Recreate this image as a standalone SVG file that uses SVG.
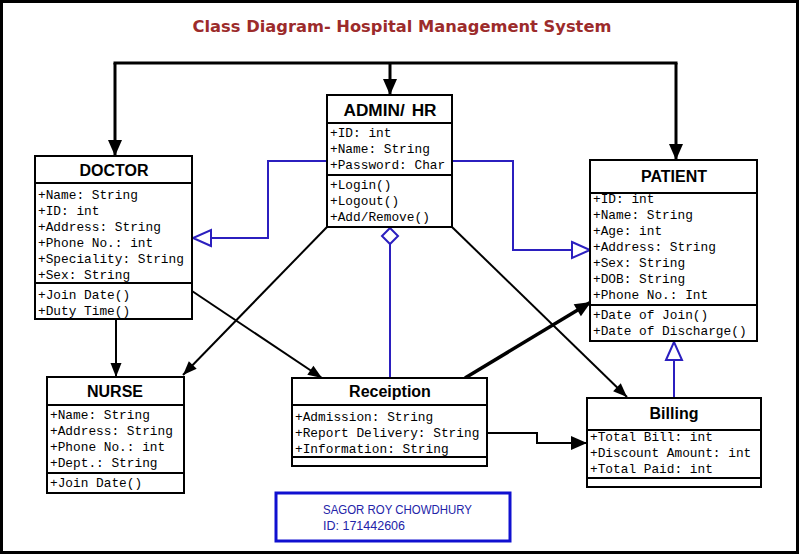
<svg xmlns="http://www.w3.org/2000/svg" width="799" height="556" viewBox="0 0 799 556">
<style>
.box{fill:#fff;stroke:#000;stroke-width:2}
.div{stroke:#000;stroke-width:2}
.hd{font-family:"Liberation Sans",Arial,sans-serif;font-weight:bold;font-size:16px;text-anchor:middle;fill:#000}
.at{font-family:"Liberation Mono","Courier New",monospace;font-size:12.8px;fill:#000}
.k{fill:none;stroke:#000;stroke-width:2}
.kb{fill:none;stroke:#000;stroke-width:3}
.bl{fill:none;stroke:#2b1fbf;stroke-width:2}
marker{overflow:visible}
</style>
<defs>
<marker id="ah" markerUnits="userSpaceOnUse" markerWidth="14" markerHeight="11" refX="14" refY="5.5" orient="auto"><path d="M0,0 L14,5.5 L0,11 z" fill="#000"/></marker>
<marker id="ahB" markerUnits="userSpaceOnUse" markerWidth="16" markerHeight="14" refX="16" refY="7" orient="auto"><path d="M0,0 L16,7 L0,14 z" fill="#000"/></marker>
<marker id="tri" markerUnits="userSpaceOnUse" markerWidth="18" markerHeight="16" refX="18" refY="8" orient="auto"><path d="M0,0 L18,8 L0,16 z" fill="#fff" stroke="#2b1fbf" stroke-width="2"/></marker>
<marker id="dia" markerUnits="userSpaceOnUse" markerWidth="16" markerHeight="16" refX="0" refY="8" orient="auto"><path d="M0,8 L8,0 L16,8 L8,16 z" fill="#fff" stroke="#2b1fbf" stroke-width="2"/></marker>
</defs>
<rect x="0" y="0" width="799" height="556" fill="#fff"/>
<rect x="1.5" y="1.5" width="796" height="551" fill="none" stroke="#000" stroke-width="3"/>
<text x="402" y="32" font-family="DejaVu Sans,Verdana,sans-serif" font-weight="bold" font-size="16.3" fill="#9c2b2b" text-anchor="middle">Class Diagram- Hospital Management System</text>

<g id="connectors">
<path class="kb" d="M115,63 L676,63" stroke-linecap="square"/>
<path class="kb" d="M390,63 L390,95" marker-end="url(#ahB)"/>
<path class="kb" d="M115,63 L115,156" marker-end="url(#ahB)"/>
<path class="kb" d="M676,63 L676,160" marker-end="url(#ahB)"/>
<path class="bl" d="M327,161 L268,161 L268,238 L193,238" marker-end="url(#tri)"/>
<path class="bl" d="M452,161 L513,161 L513,250 L590,250" marker-end="url(#tri)"/>
<path class="bl" d="M390,228 L390,378" marker-start="url(#dia)"/>
<path class="bl" d="M674,398 L674,342" marker-end="url(#tri)"/>
<path class="k" d="M327,227 L183,375" marker-end="url(#ah)"/>
<path class="k" d="M452,227 L627,397" marker-end="url(#ah)"/>
<path class="k" d="M116,320 L116,377" marker-end="url(#ah)"/>
<path class="k" d="M192,291 L322,378" marker-end="url(#ah)"/>
<path fill="none" stroke="#000" stroke-width="3.5" d="M465,378 L591,302" marker-end="url(#ahB)"/>
<path class="k" d="M487,433 L537,433 L537,443 L587,443" marker-end="url(#ahB)"/>
</g>

<g id="admin">
<rect class="box" x="327" y="95" width="125" height="132"/>
<line class="div" x1="327" y1="123" x2="452" y2="123"/>
<line class="div" x1="327" y1="175" x2="452" y2="175"/>
<text class="hd" x="390" y="116" word-spacing="2" textLength="93" lengthAdjust="spacingAndGlyphs">ADMIN/ HR</text>
<text class="at" x="330" y="137">+ID: int</text>
<text class="at" x="330" y="153">+Name: String</text>
<text class="at" x="330" y="169">+Password: Char</text>
<text class="at" x="330" y="189">+Login()</text>
<text class="at" x="330" y="205">+Logout()</text>
<text class="at" x="330" y="221">+Add/Remove()</text>
</g>

<g id="doctor">
<rect class="box" x="35" y="156" width="157" height="163"/>
<line class="div" x1="35" y1="183" x2="192" y2="183"/>
<line class="div" x1="35" y1="283" x2="192" y2="283"/>
<text class="hd" x="114" y="176">DOCTOR</text>
<text class="at" x="38" y="199">+Name: String</text>
<text class="at" x="38" y="215">+ID: int</text>
<text class="at" x="38" y="231">+Address: String</text>
<text class="at" x="38" y="247">+Phone No.: int</text>
<text class="at" x="38" y="263">+Speciality: String</text>
<text class="at" x="38" y="279">+Sex: String</text>
<text class="at" x="38" y="299">+Join Date()</text>
<text class="at" x="38" y="315">+Duty Time()</text>
</g>

<g id="patient">
<rect class="box" x="590" y="160" width="167" height="181"/>
<line class="div" x1="590" y1="193" x2="757" y2="193"/>
<line class="div" x1="590" y1="305" x2="757" y2="305"/>
<text class="hd" x="674" y="182">PATIENT</text>
<text class="at" x="593" y="203">+ID: int</text>
<text class="at" x="593" y="219">+Name: String</text>
<text class="at" x="593" y="235">+Age: int</text>
<text class="at" x="593" y="251">+Address: String</text>
<text class="at" x="593" y="267">+Sex: String</text>
<text class="at" x="593" y="283">+DOB: String</text>
<text class="at" x="593" y="299">+Phone No.: Int</text>
<text class="at" x="593" y="319">+Date of Join()</text>
<text class="at" x="593" y="335">+Date of Discharge()</text>
</g>

<g id="nurse">
<rect class="box" x="47" y="377" width="137" height="116"/>
<line class="div" x1="47" y1="405" x2="184" y2="405"/>
<line class="div" x1="47" y1="473" x2="184" y2="473"/>
<text class="hd" x="115" y="397">NURSE</text>
<text class="at" x="50" y="419">+Name: String</text>
<text class="at" x="50" y="435">+Address: String</text>
<text class="at" x="50" y="451">+Phone No.: int</text>
<text class="at" x="50" y="467">+Dept.: String</text>
<text class="at" x="50" y="487">+Join Date()</text>
</g>

<g id="receiption">
<rect class="box" x="292" y="378" width="195" height="88"/>
<line class="div" x1="292" y1="405" x2="487" y2="405"/>
<line class="div" x1="292" y1="457" x2="487" y2="457"/>
<text class="hd" x="390" y="397">Receiption</text>
<text class="at" x="295" y="421">+Admission: String</text>
<text class="at" x="295" y="437">+Report Delivery: String</text>
<text class="at" x="295" y="453">+Information: String</text>
</g>

<g id="billing">
<rect class="box" x="587" y="398" width="174" height="89"/>
<line class="div" x1="587" y1="430" x2="761" y2="430"/>
<line class="div" x1="587" y1="478" x2="761" y2="478"/>
<text class="hd" x="674" y="419">Billing</text>
<text class="at" x="590" y="441">+Total Bill: int</text>
<text class="at" x="590" y="457">+Discount Amount: int</text>
<text class="at" x="590" y="473">+Total Paid: int</text>
</g>

<g id="author">
<rect x="276" y="493" width="234" height="48" fill="#fff" stroke="#1010d0" stroke-width="3"/>
<text x="323" y="514" font-family="Liberation Sans,Arial,sans-serif" font-size="12.5" fill="#2323a8" textLength="149" lengthAdjust="spacingAndGlyphs">SAGOR ROY CHOWDHURY</text>
<text x="323" y="530" font-family="Liberation Sans,Arial,sans-serif" font-size="12.5" fill="#2323a8">ID: 171442606</text>
</g>
</svg>
